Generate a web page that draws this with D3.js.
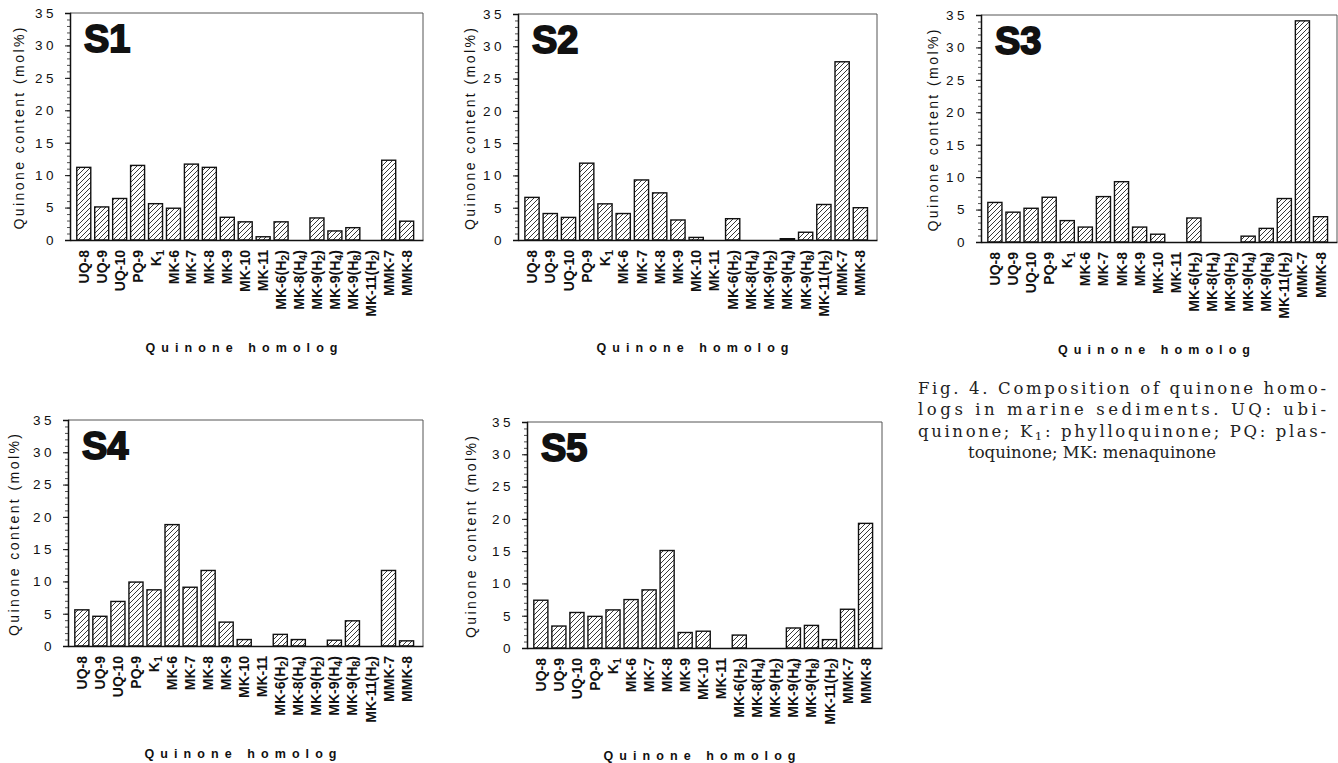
<!DOCTYPE html>
<html>
<head>
<meta charset="utf-8">
<script src="https://cdn.jsdelivr.net/npm/d3@7"></script>
<style>
  html, body { margin: 0; padding: 0; background: #fff; }
  svg { display: block; }
</style>
</head>
<body>
<svg id="chart" width="1338" height="763"></svg>
<script>
// Quinone homologs (x categories)
const categories = ["UQ-8", "UQ-9", "UQ-10", "PQ-9", "K1", "MK-6", "MK-7", "MK-8", "MK-9",
  "MK-10", "MK-11", "MK-6(H2)", "MK-8(H4)", "MK-9(H2)", "MK-9(H4)", "MK-9(H8)",
  "MK-11(H2)", "MMK-7", "MMK-8"];

// Quinone content (mol%) per sediment sample
const s1 = [11.2, 5.1, 6.4, 11.5, 5.6, 4.9, 11.7, 11.2, 3.5, 2.8, 0.5, 2.8, 0, 3.4, 1.4, 1.9, 0, 12.3, 2.9];
const s2 = [6.6, 4.1, 3.5, 11.9, 5.6, 4.1, 9.3, 7.3, 3.1, 0.4, 0, 3.3, 0, 0, 0.2, 1.2, 5.5, 27.6, 5.0];
const s3 = [6.1, 4.6, 5.2, 6.9, 3.3, 2.3, 7.0, 9.3, 2.3, 1.2, 0, 3.7, 0, 0, 0.9, 2.1, 6.7, 34.1, 3.9];
const s4 = [5.6, 4.6, 6.9, 9.9, 8.7, 18.8, 9.1, 11.7, 3.7, 1.0, 0, 1.8, 1.0, 0, 0.9, 3.9, 0, 11.7, 0.8];
const s5 = [7.4, 3.4, 5.5, 4.9, 5.9, 7.5, 9.0, 15.1, 2.4, 2.6, 0, 2.0, 0, 0, 3.1, 3.5, 1.3, 6.0, 19.3];

const sampleNames = ["S1", "S2", "S3", "S4", "S5"];
const sampleValues = [s1, s2, s3, s4, s5];

// Axis settings
const yMax = 35;
const yMajorTicks = [0, 5, 10, 15, 20, 25, 30, 35];
const yTitle = "Quinone content (mol%)";
const xTitle = "Quinone homolog";

const captionLines = [
  "Fig. 4. Composition of quinone homo-",
  "logs in marine sediments. UQ: ubi-",
  "quinone; K1: phylloquinone; PQ: plas-",
  "toquinone; MK: menaquinone"
];

// Panel frames on the page
const panels = [
  { x: 70,  y: 13,  w: 353, h: 227, yt: -51 },
  { x: 518, y: 14,  w: 359, h: 226, yt: -48 },
  { x: 981, y: 15,  w: 356, h: 227, yt: -48 },
  { x: 68,  y: 420, w: 355, h: 226, yt: -54 },
  { x: 527, y: 422, w: 355, h: 226, yt: -56 }
];

const svg = d3.select("#chart");
const defs = svg.append("defs");

// Diagonal hatch fill for the bars
const hatch = defs.append("pattern")
  .attr("id", "hatch")
  .attr("patternUnits", "userSpaceOnUse")
  .attr("width", 5).attr("height", 5);
hatch.append("rect").attr("width", 5).attr("height", 5).attr("fill", "#fff");
hatch.append("path")
  .attr("d", "M0,5 L5,0 M-1,1 L1,-1 M4,6 L6,4")
  .attr("stroke", "#222").attr("stroke-width", 0.9);

const sansFont = "'Liberation Sans', Arial, Helvetica, sans-serif";

// Writes a homolog name, turning K1 / (Hn) digits into subscripts
function writeLabel(textSel, name) {
  const re = /^(K)(1)$|^(.*\(H)(\d)(\))$/;
  const m = name.match(re);
  if (!m) { textSel.text(name); return; }
  if (m[1]) {
    textSel.append("tspan").text(m[1]);
    textSel.append("tspan").attr("font-size", "0.78em").attr("dy", 3).text(m[2]);
  } else {
    textSel.append("tspan").text(m[3]);
    textSel.append("tspan").attr("font-size", "0.78em").attr("dy", 3).text(m[4]);
    textSel.append("tspan").attr("dy", -3).text(m[5]);
  }
}

panels.forEach((p, i) => {
  const values = sampleValues[i];
  const g = svg.append("g").attr("transform", `translate(${p.x},${p.y})`);

  const x = d3.scaleBand()
    .domain(categories)
    .range([0, p.w])
    .paddingInner(0.22)
    .paddingOuter(0.45)
    .align(0.42);
  const y = d3.scaleLinear().domain([0, yMax]).range([p.h, 0]);

  // Frame: thin top/right, heavier left/bottom axes
  g.append("path")
    .attr("d", `M0,0 H${p.w} V${p.h}`)
    .attr("fill", "none").attr("stroke", "#555").attr("stroke-width", 1);

  // Bars
  g.selectAll("rect.bar")
    .data(categories.map((c, k) => ({ c, v: values[k] })).filter(d => d.v > 0))
    .join("rect")
    .attr("class", "bar")
    .attr("x", d => x(d.c))
    .attr("width", x.bandwidth())
    .attr("y", d => y(d.v))
    .attr("height", d => y(0) - y(d.v))
    .attr("fill", "url(#hatch)")
    .attr("stroke", "#111")
    .attr("stroke-width", 1.4);

  // Minor ticks (every 1 mol%)
  const yMinor = g.append("g")
    .call(d3.axisLeft(y).tickValues(d3.range(0, yMax + 1, 1)).tickSize(3).tickFormat(""));
  yMinor.select(".domain").remove();
  yMinor.selectAll("line").attr("stroke", "#222").attr("stroke-width", 0.8);

  // Major ticks with spaced digits
  const yAxis = g.append("g")
    .call(d3.axisLeft(y).tickValues(yMajorTicks).tickSize(5).tickPadding(8));
  yAxis.select(".domain").attr("stroke", "#111").attr("stroke-width", 1.5);
  yAxis.selectAll("line").attr("stroke", "#111").attr("stroke-width", 1);
  yAxis.selectAll("text")
    .attr("font-family", sansFont)
    .attr("font-size", 13.5)
    .attr("letter-spacing", 3.5)
    .attr("fill", "#111");

  // Bottom axis line with rotated homolog names
  const xAxis = g.append("g")
    .attr("transform", `translate(0,${p.h})`)
    .call(d3.axisBottom(x).tickSize(0).tickFormat(""));
  xAxis.select(".domain").attr("stroke", "#111").attr("stroke-width", 1.5);
  xAxis.selectAll(".tick").each(function (d) {
    const t = d3.select(this).append("text")
      .attr("transform", "translate(0,10) rotate(-90)")
      .attr("text-anchor", "end")
      .attr("dy", "0.36em")
      .attr("font-family", sansFont)
      .attr("font-weight", "bold")
      .attr("font-size", 14)
      .attr("fill", "#111");
    writeLabel(t, d);
  });

  // Sample label
  g.append("text")
    .attr("x", 14).attr("y", 39)
    .attr("font-family", sansFont)
    .attr("font-weight", "bold")
    .attr("font-size", 38)
    .attr("stroke", "#111").attr("stroke-width", 1.8)
    .attr("fill", "#111")
    .text(sampleNames[i]);

  // Y axis title
  g.append("text")
    .attr("transform", `translate(${p.yt},${p.h / 2 + 2}) rotate(-90)`)
    .attr("text-anchor", "middle")
    .attr("dy", "0.35em")
    .attr("font-family", sansFont)
    .attr("font-size", 14)
    .attr("textLength", 202)
    .attr("lengthAdjust", "spacing")
    .attr("fill", "#111")
    .text(yTitle);

  // X axis title
  g.append("text")
    .attr("x", p.w / 2 - 5).attr("y", p.h + 108)
    .attr("text-anchor", "middle")
    .attr("dy", "0.35em")
    .attr("font-family", sansFont)
    .attr("font-weight", "bold")
    .attr("font-size", 12.5)
    .attr("textLength", 192)
    .attr("lengthAdjust", "spacing")
    .attr("fill", "#111")
    .text(xTitle);
});

// Figure caption
const cap = svg.append("g").attr("transform", "translate(918,388)");
captionLines.forEach((line, k) => {
  const t = cap.append("text")
    .attr("x", k === 3 ? 50 : 0)
    .attr("y", k * 21.5)
    .attr("dy", "0.35em")
    .attr("font-family", "'DejaVu Serif', 'Liberation Serif', serif")
    .attr("font-size", 16.5)
    .attr("fill", "#222");
  if (k < 3) t.attr("textLength", 408).attr("lengthAdjust", "spacing");
  if (line.includes("K1")) {
    const [a, b] = line.split("K1");
    t.append("tspan").text(a + "K");
    t.append("tspan").attr("font-size", "0.72em").attr("dy", 3).text("1");
    t.append("tspan").attr("dy", -3).text(b);
  } else {
    t.text(line);
  }
});
</script>
</body>
</html>
